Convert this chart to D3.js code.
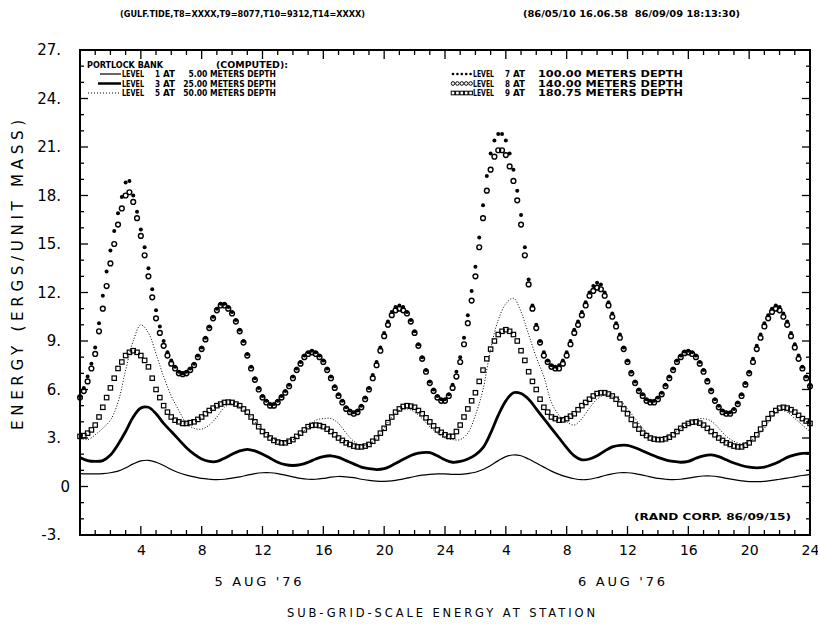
<!DOCTYPE html>
<html><head><meta charset="utf-8">
<script src="https://cdn.jsdelivr.net/npm/d3@7"></script>
<style>body{margin:0;background:#fff}svg{display:block}text{white-space:pre}</style>
</head><body>
<svg id="c" width="818" height="625"></svg>
<script>
// ---- data ----
// lines: half-hourly samples, hours 0..48
const hoursHalf = d3.range(0, 48.01, 0.5);
// marker series: quarter-hourly samples, hours 0..48
const hoursQuarter = d3.range(0, 48.001, 0.25);

const level1 = [0.80,0.78,0.78,0.80,0.85,0.95,1.15,1.40,1.58,1.62,1.50,1.30,1.05,0.85,0.70,
0.60,0.50,0.45,0.42,0.45,0.52,0.60,0.70,0.80,0.85,0.85,
0.80,0.70,0.60,0.50,0.45,0.45,0.50,0.58,0.62,0.60,0.55,
0.45,0.38,0.33,0.32,0.35,0.42,0.52,0.62,0.70,0.75,0.78,0.78,
0.75,0.75,0.80,0.88,1.05,1.30,1.60,1.85,1.95,1.90,1.70,1.45,1.20,0.95,0.75,
0.60,0.48,0.42,0.45,0.55,0.68,0.78,0.85,0.85,0.80,0.70,0.60,
0.50,0.45,0.42,0.45,0.52,0.60,0.65,0.65,0.60,0.50,
0.42,0.35,0.30,0.30,0.32,0.38,0.45,0.52,0.60,0.68,0.75];
const level3 = [1.80,1.60,1.55,1.60,1.95,2.60,3.40,4.30,4.85,4.90,4.50,3.90,3.40,2.90,2.40,
2.00,1.70,1.55,1.55,1.75,2.00,2.20,2.30,2.20,2.00,1.75,
1.50,1.35,1.30,1.35,1.50,1.70,1.85,1.90,1.80,1.60,1.40,
1.20,1.10,1.05,1.10,1.30,1.55,1.80,2.00,2.10,2.10,1.90,1.65,
1.50,1.55,1.70,1.95,2.40,3.30,4.40,5.30,5.80,5.75,5.40,4.80,4.20,3.60,3.00,
2.40,1.90,1.65,1.70,1.90,2.20,2.45,2.55,2.55,2.40,2.20,2.00,
1.80,1.65,1.55,1.50,1.55,1.75,1.90,1.95,1.85,1.65,
1.45,1.30,1.20,1.15,1.20,1.35,1.55,1.80,1.95,2.05,2.07];
const level5 = [3.00,2.90,3.20,3.60,4.10,5.20,7.20,9.00,10.00,9.50,8.20,6.80,5.60,4.70,3.90,
3.60,3.55,3.80,4.30,4.90,5.10,4.90,4.50,4.00,3.50,3.10,
2.85,2.80,2.90,3.20,3.70,4.10,4.20,4.20,3.90,3.30,2.80,
2.55,2.60,3.00,3.60,4.30,4.70,4.80,4.60,4.20,3.70,3.30,3.00,
2.90,2.90,3.30,4.40,6.00,8.50,10.30,11.30,11.65,10.80,9.40,8.00,6.80,5.20,4.40,
4.00,3.80,4.20,4.85,5.40,5.65,5.60,5.35,4.80,4.20,3.60,3.10,
3.00,3.10,3.30,3.60,3.90,4.15,4.20,4.05,3.60,3.10,
2.80,2.65,2.80,3.10,3.60,4.30,4.70,4.60,4.20,3.80,3.40];
const level7 = [5.6,6.1,6.8,7.6,8.6,10.1,11.8,13.3,14.6,15.8,16.9,17.9,18.8,18.9,18.0,17.0,
15.9,14.8,13.5,12.2,10.9,9.9,9.0,8.3,7.8,7.4,7.1,7.0,7.1,7.3,7.6,8.1,
8.6,9.2,9.9,10.5,11.0,11.3,11.3,11.1,10.8,10.3,9.7,9.0,8.2,7.4,6.7,6.1,
5.6,5.3,5.1,5.1,5.3,5.6,5.9,6.3,6.8,7.3,7.7,8.1,8.3,8.4,8.3,8.1,
7.8,7.3,6.8,6.2,5.7,5.3,4.9,4.7,4.6,4.7,5.0,5.5,6.1,6.9,7.7,8.6,
9.5,10.2,10.8,11.1,11.2,11.1,10.8,10.3,9.6,8.8,8.0,7.2,6.5,6.0,5.6,5.4,
5.4,5.7,6.3,7.1,8.0,9.2,10.6,12.1,13.6,15.4,17.4,19.2,20.6,21.4,21.8,21.8,
21.4,20.6,19.6,18.3,16.8,14.8,12.8,11.2,10.0,9.0,8.3,7.8,7.5,7.4,7.5,7.8,
8.3,9.0,9.7,10.2,10.8,11.4,12.0,12.4,12.6,12.5,12.0,11.4,10.7,10.1,9.4,8.6,
7.8,7.1,6.5,6.0,5.7,5.4,5.3,5.3,5.5,5.8,6.3,6.8,7.3,7.8,8.1,8.35,
8.4,8.3,8.1,7.7,7.2,6.6,6.0,5.4,5.0,4.7,4.6,4.6,4.8,5.2,5.7,6.4,
7.1,7.9,8.7,9.4,10.1,10.6,11.0,11.2,11.1,10.7,10.2,9.5,8.8,8.1,7.4,6.8,
6.3];
const level8 = [5.5,5.9,6.5,7.3,8.2,9.6,11.0,12.4,13.8,15.0,16.2,17.2,18.0,18.2,17.6,16.6,
15.5,14.3,13.0,11.7,10.4,9.5,8.7,8.1,7.6,7.3,7.0,6.95,7.0,7.2,7.5,8.0,
8.5,9.1,9.8,10.4,10.9,11.2,11.2,11.0,10.7,10.2,9.6,8.9,8.1,7.3,6.6,6.0,
5.5,5.2,5.0,5.0,5.2,5.5,5.8,6.2,6.7,7.2,7.6,8.0,8.2,8.3,8.2,8.0,
7.7,7.2,6.7,6.1,5.6,5.2,4.8,4.6,4.5,4.6,4.9,5.4,6.0,6.7,7.5,8.4,
9.3,10.0,10.6,10.9,11.0,10.9,10.7,10.2,9.5,8.7,7.9,7.1,6.4,5.9,5.5,5.3,
5.3,5.6,6.1,6.8,7.7,8.8,10.1,11.5,13.0,14.8,16.6,18.3,19.6,20.4,20.8,20.8,
20.5,19.8,18.9,17.7,16.2,14.3,12.5,11.0,9.8,8.9,8.1,7.7,7.4,7.3,7.3,7.6,
8.1,8.8,9.5,10.0,10.6,11.2,11.8,12.1,12.3,12.2,11.8,11.2,10.5,9.9,9.2,8.5,
7.7,7.0,6.4,5.9,5.6,5.3,5.2,5.2,5.4,5.7,6.2,6.7,7.2,7.7,8.0,8.25,
8.3,8.2,8.0,7.6,7.1,6.5,5.9,5.3,4.9,4.6,4.5,4.5,4.7,5.1,5.6,6.3,
7.0,7.7,8.5,9.2,9.9,10.4,10.8,11.0,10.9,10.5,10.0,9.3,8.6,7.9,7.3,6.7,
6.2];
const level9 = [3.1,3.15,3.3,3.5,3.8,4.3,4.9,5.5,6.1,6.7,7.3,7.7,8.1,8.3,8.4,8.3,
8.1,7.8,7.4,6.7,6.0,5.5,5.0,4.6,4.3,4.1,4.0,3.9,3.9,3.95,4.0,4.15,
4.3,4.5,4.7,4.85,5.0,5.1,5.2,5.22,5.2,5.1,5.0,4.8,4.6,4.3,4.0,3.7,
3.4,3.2,3.0,2.85,2.75,2.7,2.7,2.8,2.9,3.1,3.3,3.5,3.7,3.78,3.8,3.77,
3.7,3.55,3.4,3.2,3.0,2.85,2.7,2.6,2.5,2.45,2.45,2.5,2.6,2.8,3.0,3.3,
3.6,3.95,4.3,4.6,4.8,4.95,5.0,4.97,4.9,4.7,4.5,4.25,4.0,3.75,3.5,3.35,
3.2,3.1,3.1,3.4,3.8,4.3,4.8,5.3,5.8,6.5,7.2,7.9,8.5,9.0,9.4,9.6,
9.7,9.6,9.4,9.0,8.4,7.8,7.1,6.5,6.0,5.4,4.9,4.6,4.3,4.2,4.1,4.12,
4.2,4.35,4.5,4.75,5.0,5.2,5.4,5.6,5.75,5.8,5.8,5.72,5.6,5.4,5.1,4.8,
4.5,4.15,3.8,3.55,3.3,3.15,3.0,2.93,2.9,2.9,2.95,3.05,3.2,3.4,3.6,3.78,
3.9,3.98,4.0,3.92,3.8,3.6,3.4,3.2,3.0,2.85,2.7,2.6,2.5,2.45,2.45,2.55,
2.7,2.95,3.2,3.55,3.9,4.2,4.5,4.7,4.85,4.9,4.85,4.75,4.6,4.4,4.2,4.05,
3.9];

const yTicks = [-3,0,3,6,9,12,15,18,21,24,27];
const yTickLabels = ["-3.","0","3.","6.","9.","12.","15.","18.","21.","24.","27."];
const xTicks = [4,8,12,16,20,24,28,32,36,40,44,48];
const xTickLabels = ["4","8","12","16","20","24","4","8","12","16","20","24"];
const dayLabels = ["5 AUG '76","6 AUG '76"];
const dayCenters = [11.7, 35.6];
const legendLeft = [
  {level:"1", depth:"5.00 METERS DEPTH"},
  {level:"3", depth:"25.00 METERS DEPTH"},
  {level:"5", depth:"50.00 METERS DEPTH"}];
const legendRight = [
  {level:"7", depth:"100.00 METERS DEPTH"},
  {level:"8", depth:"140.00 METERS DEPTH"},
  {level:"9", depth:"180.75 METERS DEPTH"}];

// ---- drawing ----
const svg = d3.select("#c");
svg.append("rect").attr("width",818).attr("height",625).attr("fill","#fff");
const x = d3.scaleLinear().domain([0,48]).range([80,810]);
const y = d3.scaleLinear().domain([-3,27]).range([535,50]);
const plotFont = "'DejaVu Sans',sans-serif";
const smallFont = "'DejaVu Sans Condensed','DejaVu Sans',sans-serif";

function txt(s, px, py, o={}) {
  const t = svg.append("text").attr("x",px).attr("y",py).text(s)
    .attr("font-family", o.font||smallFont).attr("font-size", o.size||8)
    .attr("font-weight", o.weight||"bold").attr("fill","#000");
  if (o.len) t.attr("textLength", o.len).attr("lengthAdjust", o.adj||"spacingAndGlyphs");
  if (o.anchor) t.attr("text-anchor", o.anchor);
  return t;
}

// series
const pts = (hs, arr) => arr.map((v,i)=>[hs[i], v]);
const line = d3.line().x(d=>x(d[0])).y(d=>y(d[1])).curve(d3.curveCatmullRom.alpha(0.5));
const g = svg.append("g");
g.append("path").attr("d", line(pts(hoursHalf, level1))).attr("fill","none").attr("stroke","#000").attr("stroke-width",1.2);
g.append("path").attr("d", line(pts(hoursHalf, level3))).attr("fill","none").attr("stroke","#000").attr("stroke-width",2.8);
g.append("path").attr("d", line(pts(hoursHalf, level5))).attr("fill","none").attr("stroke","#000").attr("stroke-width",1).attr("stroke-dasharray","1,1.8");
g.selectAll(".sq").data(pts(hoursQuarter, level9)).join("rect").attr("class","sq")
  .attr("x",d=>x(d[0])-2.2).attr("y",d=>y(d[1])-2.2).attr("width",4.4).attr("height",4.4)
  .attr("fill","none").attr("stroke","#000").attr("stroke-width",1.2);
g.selectAll(".oc").data(pts(hoursQuarter, level8)).join("circle").attr("class","oc")
  .attr("cx",d=>x(d[0])).attr("cy",d=>y(d[1])).attr("r",2.4)
  .attr("fill","none").attr("stroke","#000").attr("stroke-width",1.4);
g.selectAll(".fc").data(pts(hoursQuarter, level7)).join("circle").attr("class","fc")
  .attr("cx",d=>x(d[0])).attr("cy",d=>y(d[1])).attr("r",2.0).attr("fill","#000");

// frame
const [x0,x1] = x.range(), [y0,y1] = y.range();
svg.append("rect").attr("x",x0).attr("y",y1).attr("width",x1-x0).attr("height",y0-y1)
  .attr("fill","none").attr("stroke","#000").attr("stroke-width",2);

// ticks
const tk = svg.append("g").attr("stroke","#000").attr("stroke-width",1.3);
d3.range(1,48).forEach(h=>{
  const L = h%4===0 ? 9 : 5;
  tk.append("line").attr("x1",x(h)).attr("x2",x(h)).attr("y1",y0).attr("y2",y0-L);
  tk.append("line").attr("x1",x(h)).attr("x2",x(h)).attr("y1",y1).attr("y2",y1+L);
});
d3.range(-2,27).forEach(v=>{
  const L = v%3===0 ? 8 : 4;
  tk.append("line").attr("x1",x0).attr("x2",x0+L).attr("y1",y(v)).attr("y2",y(v));
  tk.append("line").attr("x1",x1).attr("x2",x1-L).attr("y1",y(v)).attr("y2",y(v));
});

// axis labels
const gx = svg.append("g").attr("transform",`translate(0,${y0})`)
  .call(d3.axisBottom(x).tickValues(xTicks).tickFormat((d,i)=>xTickLabels[i]).tickSize(0).tickPadding(10));
gx.select(".domain").remove();
gx.selectAll("text").attr("font-family",plotFont).attr("font-size",14);
const gy = svg.append("g").attr("transform",`translate(${x0},0)`)
  .call(d3.axisLeft(y).tickValues(yTicks).tickFormat((d,i)=>yTickLabels[i]).tickSize(0).tickPadding(19));
gy.select(".domain").remove();
gy.selectAll("text").attr("font-family",plotFont).attr("font-size",15)
  .attr("x",(d,i)=>yTickLabels[i].endsWith(".")? -19 : -10);

svg.append("text").attr("transform","translate(23,275) rotate(-90)").attr("text-anchor","middle")
  .attr("font-family",plotFont).attr("font-size",15).attr("textLength",310).attr("lengthAdjust","spacing")
  .text("ENERGY (ERGS/UNIT MASS)");
dayLabels.forEach((s,i)=>{
  svg.append("text").attr("x",x(dayCenters[i])).attr("y",586).attr("text-anchor","middle")
   .attr("font-family",plotFont).attr("font-size",13).attr("textLength",87).attr("lengthAdjust","spacing").text(s);
});
svg.append("text").attr("x",441).attr("y",617).attr("text-anchor","middle")
  .attr("font-family",plotFont).attr("font-size",11.5).attr("textLength",308).attr("lengthAdjust","spacing")
  .text("SUB-GRID-SCALE ENERGY AT STATION");

// headers
txt("(GULF.TIDE,T8=XXXX,T9=8077,T10=9312,T14=XXXX)",120,17,{len:245});
txt("(86/05/10 16.06.58  86/09/09 18:13:30)",523,17,{len:217});
txt("(RAND CORP. 86/09/15)",634,520,{len:157});

// legend
txt("PORTLOCK BANK",87,67.5,{len:76});
txt("(COMPUTED):",216,67.5,{len:72});
const rowY = [77,86.5,96];
legendLeft.forEach((r,i)=>{
  txt("LEVEL",122,rowY[i],{len:22});
  txt(r.level,155,rowY[i]);
  txt("AT",163,rowY[i],{len:12});
  txt(r.depth,276,rowY[i],{anchor:"end", len: r.depth.length*5.15});
});
legendRight.forEach((r,i)=>{
  txt("LEVEL",473,rowY[i],{len:21});
  txt(r.level,505,rowY[i]);
  txt("AT",513,rowY[i],{len:12});
  txt(r.depth,683,rowY[i],{anchor:"end", len: 145});
});
const lg = svg.append("g");
const ly = rowY.map(v=>v-3);
lg.append("line").attr("x1",100).attr("x2",121).attr("y1",ly[0]).attr("y2",ly[0]).attr("stroke","#000").attr("stroke-width",1.2);
lg.append("line").attr("x1",98).attr("x2",121).attr("y1",ly[1]).attr("y2",ly[1]).attr("stroke","#000").attr("stroke-width",2.5);
lg.append("line").attr("x1",88).attr("x2",121).attr("y1",ly[2]).attr("y2",ly[2]).attr("stroke","#000").attr("stroke-width",1).attr("stroke-dasharray","1,2");
d3.range(5).forEach(k=>{
  const cx = 453 + k*4.4;
  lg.append("circle").attr("cx",cx).attr("cy",ly[0]).attr("r",1.3).attr("fill","#000");
  lg.append("circle").attr("cx",cx).attr("cy",ly[1]).attr("r",1.8).attr("fill","none").attr("stroke","#000").attr("stroke-width",1);
  lg.append("rect").attr("x",cx-1.8).attr("y",ly[2]-1.8).attr("width",3.6).attr("height",3.6).attr("fill","none").attr("stroke","#000").attr("stroke-width",1);
});
</script>
</body></html>
